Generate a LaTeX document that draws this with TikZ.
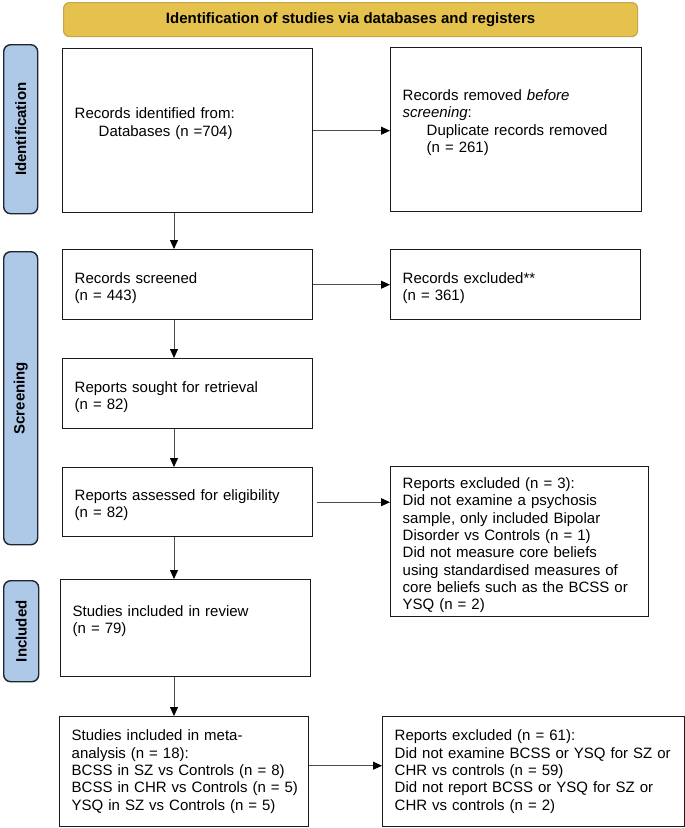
\documentclass[tikz,border=0pt]{standalone}
\usepackage{fontspec}
\setmainfont{Liberation Sans}
\usepackage{xcolor}
\usetikzlibrary{arrows.meta}

\definecolor{headgold}{HTML}{E4C24D}
\definecolor{headedge}{HTML}{C6A646}
\definecolor{sideblue}{HTML}{AEC8E7}
\definecolor{sideedge}{HTML}{1E2630}
\definecolor{boxedge}{HTML}{1A1A1A}
\definecolor{arrgray}{HTML}{4D4D4D}

\begin{document}
\begin{tikzpicture}[x=1pt,y=-1pt,
  box/.style={draw=boxedge, line width=1.4pt, anchor=north west, align=left,
    inner xsep=12pt, inner ysep=3pt, font=\fontsize{15}{17.3}\selectfont},
  lowtext/.style={text depth=#1},
  sidebar/.style={draw=sideedge, fill=sideblue, line width=1.4pt, rounded corners=7pt,
    anchor=north west, minimum width=34pt, inner sep=0pt,
    font=\bfseries\fontsize{15}{18}\selectfont},
  arr/.style={arrgray, line width=0.8pt, -{Triangle[length=9pt,width=8pt,color=black]}}]

\useasboundingbox (0,0) rectangle (685,828);

% heading and phase bars
\node [draw=headedge, fill=headgold, line width=1.2pt, rounded corners=6pt, anchor=north west,
  minimum width=574pt, minimum height=34pt, font=\bfseries\fontsize{15}{18}\selectfont]
  (head) at (63,2) {Identification of studies via databases and registers};

\node [sidebar, minimum height=169pt] (sideid) at (3,44) {\rotatebox{90}{Identification}};
\node [sidebar, minimum height=293pt] (sidescr) at (3,251) {\rotatebox{90}{Screening}};
\node [sidebar, minimum height=101pt, minimum width=35pt] (sideinc) at (3,580) {\rotatebox{90}{Included}};

% left column
\node [box, text width=226pt, minimum height=164pt] (ident) at (62,48)
  {Records identified from:\\\hspace*{24pt}Databases (n =704)\\\mbox{}};
\node [box, lowtext=14pt, text width=226pt, minimum height=70pt] (screened) at (62,249)
  {Records screened\\(n = 443)};
\node [box, lowtext=14pt, text width=226pt, minimum height=70pt] (sought) at (62,358)
  {Reports sought for retrieval\\(n = 82)};
\node [box, lowtext=14pt, text width=226pt, minimum height=69pt] (assessed) at (62,467)
  {Reports assessed for eligibility\\(n = 82)};
\node [box, text width=226pt, minimum height=97pt] (review) at (60,579)
  {Studies included in review\\(n = 79)\\\mbox{}};
\node [box, text width=225pt, minimum height=110pt] (meta) at (59,716)
  {Studies included in meta-\\analysis (n = 18):\\BCSS in SZ vs Controls (n = 8)\\\mbox{BCSS in CHR vs Controls (n = 5)}\\YSQ in SZ vs Controls (n = 5)};

% right column
\node [box, text width=227pt, minimum height=164pt] (removed) at (390,47)
  {Records removed \textit{before}\\\textit{screening}:\\\hspace*{24pt}Duplicate records removed\\\hspace*{24pt}(n = 261)\\\mbox{}};
\node [box, lowtext=14pt, text width=226pt, minimum height=70pt] (excl) at (390,249)
  {Records excluded**\\(n = 361)};
\node [box, lowtext=117pt, text width=234pt, minimum height=150pt] (exclthree) at (390,466)
  {Reports excluded (n = 3):\\Did not examine a psychosis\\sample, only included Bipolar\\Disorder vs Controls (n = 1)\\Did not measure core beliefs\\using standardised measures of\\core beliefs such as the BCSS or\\YSQ (n = 2)};
\node [box, text width=278pt, minimum height=110pt] (exclsixty) at (382,716)
  {Reports excluded (n = 61):\\Did not examine BCSS or YSQ for SZ or\\CHR vs controls (n = 59)\\Did not report BCSS or YSQ for SZ or\\CHR vs controls (n = 2)};

% arrows
\coordinate (spine) at (174,0);
\draw [arr] (ident.south -| spine) -- (screened.north -| spine);
\draw [arr] (screened.south -| spine) -- (sought.north -| spine);
\draw [arr] (sought.south -| spine) -- (assessed.north -| spine);
\draw [arr] (assessed.south -| spine) -- (review.north -| spine);
\draw [arr] (review.south -| spine) -- (meta.north -| spine);

\draw [arr] (ident.east) -- (ident.east -| removed.west);
\draw [arr] (screened.east) -- (screened.east -| excl.west);
\draw [arr, shorten <=4pt] (assessed.east) -- (assessed.east -| exclthree.west);
\draw [arr] ([yshift=6pt]meta.east) -- ([yshift=6pt]meta.east -| exclsixty.west);
\end{tikzpicture}
\end{document}
